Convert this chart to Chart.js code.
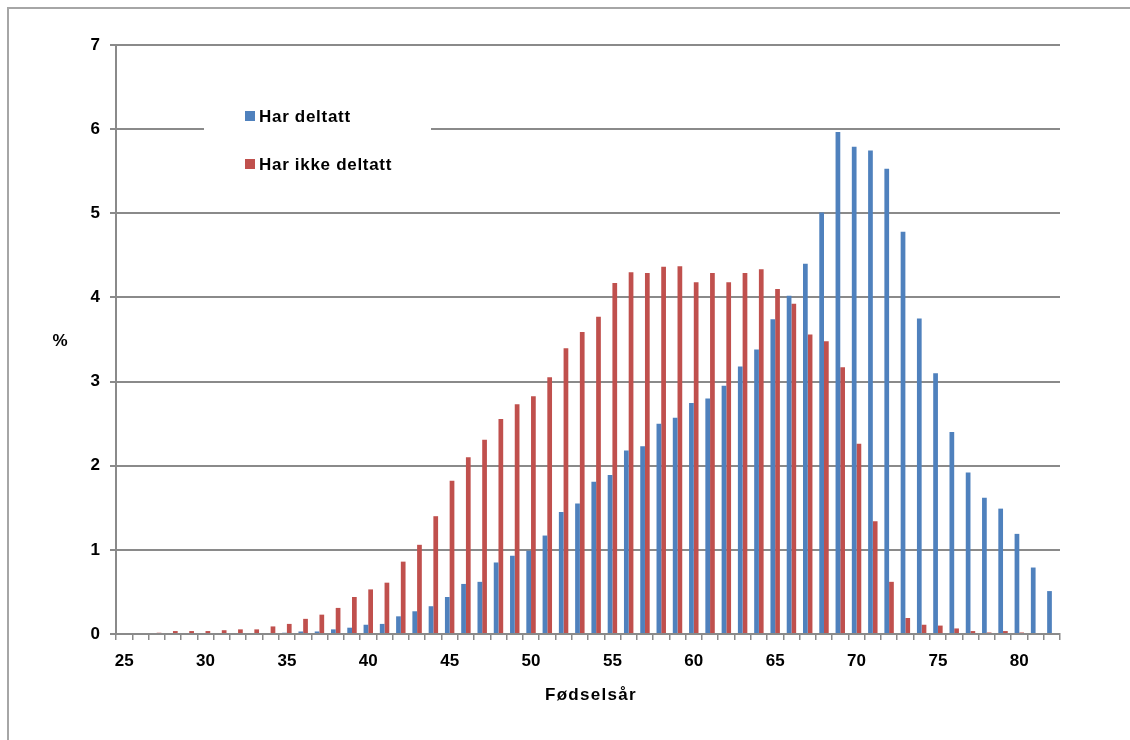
<!DOCTYPE html>
<html>
<head>
<meta charset="utf-8">
<script src="https://cdn.jsdelivr.net/npm/chart.js@4.4.1/dist/chart.umd.min.js"></script>
<style>
  html, body { margin: 0; padding: 0; background: #fff; }
  #frame { position: absolute; left: 7px; top: 7px; width: 1130px; height: 740px;
           border-left: 2px solid #a6a6a6; border-top: 2px solid #a6a6a6; box-sizing: border-box; }
  #c { position: absolute; left: 0; top: 0; }
</style>
</head>
<body>
<div id="frame"></div>
<canvas id="c" width="1130" height="740"></canvas>
<script>
// Birth years (categories)
const years = [25,26,27,28,29,30,31,32,33,34,35,36,37,38,39,40,41,42,43,44,45,46,47,48,49,50,51,52,53,54,
               55,56,57,58,59,60,61,62,63,64,65,66,67,68,69,70,71,72,73,74,75,76,77,78,79,80,81,82];
// "Har deltatt" (%)
const harDeltatt = [0,0,0,0,0,0,0,0,0,0,0.015,0.03,0.03,0.055,0.075,0.11,0.12,0.21,0.27,0.33,
                    0.44,0.595,0.62,0.85,0.93,0.99,1.17,1.45,1.55,1.81,1.89,2.18,2.23,2.50,2.57,2.745,2.80,2.95,3.18,3.38,
                    3.74,4.02,4.40,5.01,5.965,5.79,5.745,5.53,4.78,3.75,3.10,2.40,1.92,1.62,1.49,1.19,0.79,0.51];
// "Har ikke deltatt" (%)
const harIkkeDeltatt = [0,0,0.015,0.035,0.035,0.035,0.045,0.055,0.055,0.09,0.12,0.18,0.23,0.31,0.44,0.53,0.61,0.86,1.06,1.40,
                        1.82,2.10,2.31,2.555,2.73,2.825,3.05,3.395,3.59,3.77,4.17,4.30,4.29,4.365,4.37,4.18,4.29,4.18,4.29,4.335,
                        4.10,3.925,3.56,3.48,3.17,2.26,1.34,0.62,0.19,0.11,0.10,0.066,0.035,0.018,0.035,0.018,0,0];
const seriesNames = ['Har deltatt', 'Har ikke deltatt'];
const seriesColors = ['#4F81BD', '#C0504D'];
const yTicks = [0,1,2,3,4,5,6,7];
const xTitle = 'Fødselsår';
const yTitle = '%';

const FONT = "'Liberation Sans', Arial, sans-serif";
Chart.defaults.font.family = FONT;
Chart.defaults.color = '#000';

const overlay = {
  id: 'overlay',
  afterDraw(chart) {
    const ctx = chart.ctx;
    ctx.save();
    // legend box
    ctx.fillStyle = '#fff';
    ctx.fillRect(204, 92, 227, 96);
    ctx.font = 'bold 17px ' + FONT;
    ctx.letterSpacing = '0.7px';
    ctx.textBaseline = 'middle';
    ctx.textAlign = 'left';
    const ys = [116, 164];
    for (let i = 0; i < seriesNames.length; i++) {
      ctx.fillStyle = seriesColors[i];
      ctx.fillRect(245, ys[i] - 5, 10, 10);
      ctx.fillStyle = '#000';
      ctx.fillText(seriesNames[i], 259, ys[i] + 1);
    }
    // x title
    ctx.letterSpacing = '1.3px';
    ctx.textAlign = 'center';
    ctx.fillText(xTitle, (chart.chartArea.left + chart.chartArea.right) / 2 + 3, 695);
    // y title (horizontal)
    ctx.letterSpacing = '0px';
    ctx.fillText(yTitle, 60, 341);
    ctx.restore();
  }
};

new Chart(document.getElementById('c'), {
  type: 'bar',
  data: {
    labels: years,
    datasets: [
      { label: seriesNames[0], data: harDeltatt, backgroundColor: seriesColors[0],
        categoryPercentage: 0.58, barPercentage: 1.0 },
      { label: seriesNames[1], data: harIkkeDeltatt, backgroundColor: seriesColors[1],
        categoryPercentage: 0.58, barPercentage: 1.0 }
    ]
  },
  options: {
    responsive: false,
    animation: false,
    devicePixelRatio: 1,
    layout: { padding: { left: 0, right: 70, top: 45, bottom: 0 } },
    plugins: { legend: { display: false }, tooltip: { enabled: false } },
    scales: {
      x: {
        offset: true,
        grid: { offset: true, drawOnChartArea: false, drawTicks: true, tickLength: 6,
                color: '#8a8a8a', lineWidth: 1.5 },
        border: { display: true, color: '#8a8a8a', width: 2 },
        ticks: {
          autoSkip: false, maxRotation: 0, minRotation: 0, padding: 11,
          font: { size: 17, weight: 'bold' }, color: '#000',
          callback: function (v, i) { const y = years[i]; return y % 5 === 0 ? String(y) : ''; }
        },
        title: { display: false, text: xTitle },
        afterFit: function (s) { s.height = 106; }
      },
      y: {
        min: 0, max: 7,
        afterBuildTicks: function (s) { s.ticks = yTicks.map(v => ({ value: v })); },
        grid: { color: '#8a8a8a', lineWidth: 2, drawTicks: true, tickLength: 6 },
        border: { display: true, color: '#8a8a8a', width: 2 },
        ticks: { padding: 10, font: { size: 17, weight: 'bold' }, color: '#000' },
        afterFit: function (s) { s.width = 116; }
      }
    }
  },
  plugins: [overlay]
});
</script>
</body>
</html>
